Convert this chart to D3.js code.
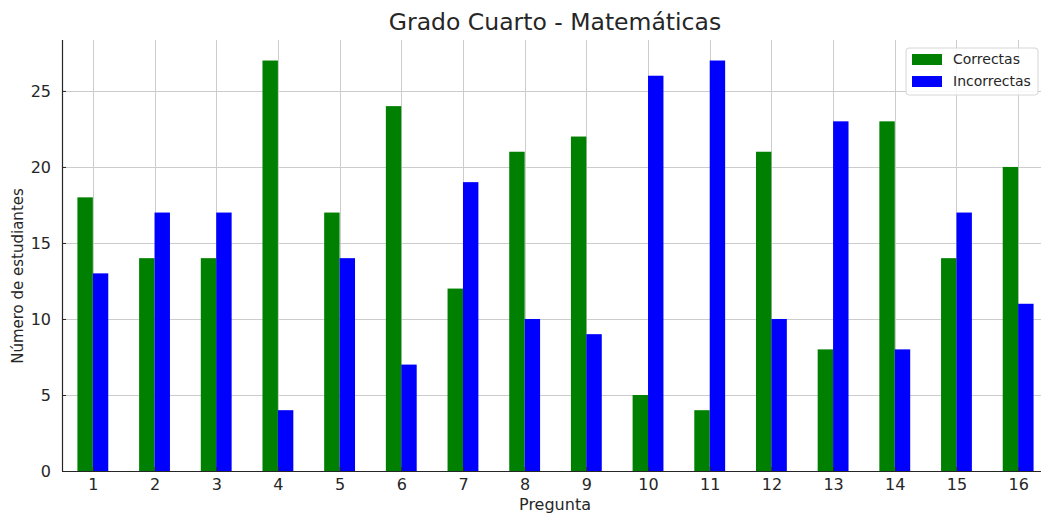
<!DOCTYPE html>
<html>
<head>
<meta charset="utf-8">
<script src="https://cdn.jsdelivr.net/npm/d3@7"></script>
<style>
  body { margin: 0; background: #fff; }
  text { font-family: "DejaVu Sans", sans-serif; fill: #262626; }
</style>
</head>
<body>
<div id="chart"></div>
<script>
// data
var preguntas = ["1","2","3","4","5","6","7","8","9","10","11","12","13","14","15","16"];
var correctas = [18, 14, 14, 27, 17, 24, 12, 21, 22, 5, 4, 21, 8, 23, 14, 20];
var incorrectas = [13, 17, 17, 4, 14, 7, 19, 10, 9, 26, 27, 10, 23, 8, 17, 11];
var yTicks = [0, 5, 10, 15, 20, 25];
var series = [
    { name: "Correctas", values: correctas, color: "green", side: -1 },
    { name: "Incorrectas", values: incorrectas, color: "blue", side: 0 }
];

var width = 1041, height = 515;
var plotLeft = 62, plotBottom = 471, plotTop = 40;

var svg = d3.select("#chart").append("svg")
    .attr("width", width)
    .attr("height", height);

var x = d3.scaleLinear().domain([-0.5, preguntas.length - 0.5]).range([plotLeft, 1049]);
var y = d3.scaleLinear().domain([0, 28.35]).range([plotBottom, plotTop]);
var barW = x(0.25) - x(0);

// grid
svg.append("g").selectAll("line")
    .data(yTicks).enter().append("line")
    .attr("x1", plotLeft).attr("x2", width)
    .attr("y1", function(d) { return Math.round(y(d)) + 0.5; })
    .attr("y2", function(d) { return Math.round(y(d)) + 0.5; })
    .style("stroke", "#cccccc").style("stroke-width", 1);

svg.append("g").selectAll("line")
    .data(preguntas).enter().append("line")
    .attr("x1", function(d, i) { return Math.round(x(i)) + 0.5; })
    .attr("x2", function(d, i) { return Math.round(x(i)) + 0.5; })
    .attr("y1", plotTop).attr("y2", plotBottom)
    .style("stroke", "#cccccc").style("stroke-width", 1);

// bars
series.forEach(function(s) {
    svg.append("g").selectAll("rect")
        .data(s.values).enter().append("rect")
        .attr("x", function(d, i) { return x(i) + s.side * barW; })
        .attr("y", function(d) { return y(d); })
        .attr("width", barW)
        .attr("height", function(d) { return y(0) - y(d); })
        .style("fill", s.color);
});

// axes
var yAxis = d3.axisLeft(y).tickValues(yTicks).tickSizeInner(-4).tickSizeOuter(0).tickPadding(11);
var gy = svg.append("g").attr("transform", "translate(" + plotLeft + ",0)").call(yAxis);
gy.select(".domain").attr("d", "M0.5," + plotTop + "V" + plotBottom).style("stroke", "#262626").style("stroke-width", 1.2);
gy.selectAll(".tick line").style("stroke", "#262626");
gy.selectAll(".tick text").style("font-size", "16px").style("font-family", "DejaVu Sans").style("fill", "#262626");

var xAxis = d3.axisBottom(x).tickValues(d3.range(preguntas.length))
    .tickFormat(function(i) { return preguntas[i]; })
    .tickSizeInner(-4).tickSizeOuter(0).tickPadding(8);
var gx = svg.append("g").attr("transform", "translate(0," + plotBottom + ")").call(xAxis);
gx.select(".domain").attr("d", "M" + plotLeft + ",0.5H" + width).style("stroke", "#262626").style("stroke-width", 1.2);
gx.selectAll(".tick line").style("stroke", "#262626");
gx.selectAll(".tick text").style("font-size", "16px").style("font-family", "DejaVu Sans").style("fill", "#262626");

// titles
svg.append("text").attr("x", 555).attr("y", 30)
    .attr("text-anchor", "middle").style("font-size", "23.5px")
    .text("Grado Cuarto - Matemáticas");

svg.append("text").attr("x", 555).attr("y", 510)
    .attr("text-anchor", "middle").style("font-size", "16px")
    .text("Pregunta");

svg.append("text")
    .attr("transform", "translate(23," + 276 + ") rotate(-90)")
    .attr("text-anchor", "middle").style("font-size", "15px")
    .text("Número de estudiantes");

// legend
var lg = svg.append("g").attr("transform", "translate(906,48)");
lg.append("rect").attr("width", 132).attr("height", 47).attr("rx", 3)
    .style("fill", "#fff").style("fill-opacity", 0.85)
    .style("stroke", "#d6d6d6").style("stroke-width", 1);
series.forEach(function(s, i) {
    lg.append("rect").attr("x", 6).attr("y", 6 + i * 22).attr("width", 30).attr("height", 11)
        .style("fill", s.color);
    lg.append("text").attr("x", 47).attr("y", 16 + i * 22)
        .style("font-size", "14px").text(s.name);
});
</script>
</body>
</html>
